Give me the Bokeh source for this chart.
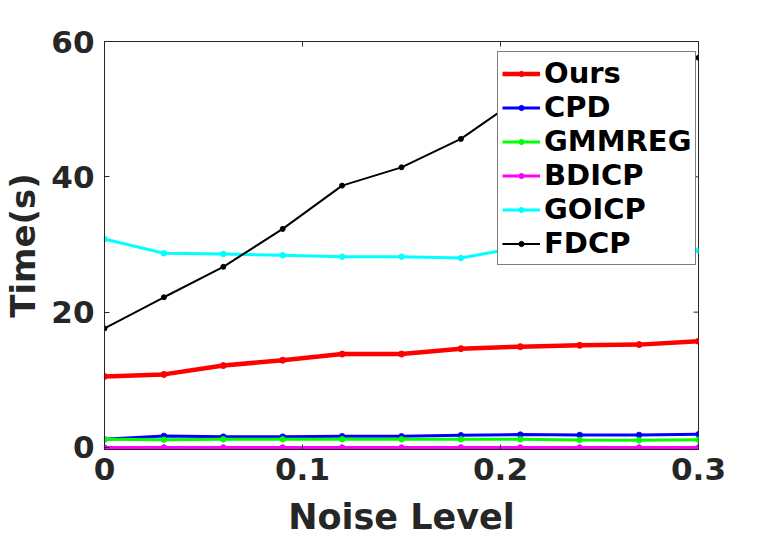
import math
from bokeh.plotting import figure
from bokeh.models import Range1d, FixedTicker, Legend, LegendItem
from bokeh.embed import file_html
from bokeh.resources import INLINE

noise = [0.0, 0.03, 0.06, 0.09, 0.12, 0.15, 0.18, 0.21, 0.24, 0.27, 0.30]
ours = [10.5, 10.8, 12.1, 12.9, 13.8, 13.8, 14.6, 14.9, 15.1, 15.2, 15.7]
cpd = [1.2, 1.7, 1.6, 1.6, 1.65, 1.65, 1.8, 1.9, 1.85, 1.85, 1.95]
gmmreg = [1.2, 1.15, 1.2, 1.2, 1.2, 1.2, 1.2, 1.2, 1.1, 1.05, 1.15]
bdicp = [0.0, 0.0, 0.0, 0.0, 0.0, 0.0, 0.0, 0.0, 0.0, 0.0, 0.0]
goicp = [30.8, 28.7, 28.6, 28.4, 28.2, 28.2, 28.0, 29.6, 29.4, 29.2, 29.1]
fdcp = [17.6, 22.2, 26.7, 32.3, 38.7, 41.4, 45.6, 51.7, 54.0, 56.0, 57.6]

x_ticks = [0, 0.1, 0.2, 0.3]
y_ticks = [0, 20, 40, 60]
x_tick_labels = {0: "0", 0.1: "0.1", 0.2: "0.2", 0.3: "0.3"}

series = [
    ("Ours", ours, "#FF0000", 4.5, 6),
    ("CPD", cpd, "#0000FF", 3, 5.5),
    ("GMMREG", gmmreg, "#00FF00", 3, 5.5),
    ("BDICP", bdicp, "#FF00FF", 3, 5.5),
    ("GOICP", goicp, "#00FFFF", 3, 5.5),
    ("FDCP", fdcp, "#000000", 2, 5),
]

FONT = "DejaVu Sans"
TXT = "#262626"

p = figure(width=771, height=539, output_backend="svg", toolbar_location=None,
           x_range=Range1d(0, 0.3), y_range=Range1d(-0.3, 60),
           min_border_left=100, min_border_right=73, min_border_top=41,
           min_border_bottom=90, x_axis_label="Noise Level", y_axis_label="Time(s)")
p.background_fill_color = "white"
p.border_fill_color = "white"
p.outline_line_color = TXT
p.outline_line_width = 1
p.xgrid.visible = False
p.ygrid.visible = False

p.xaxis.ticker = FixedTicker(ticks=x_ticks)
p.xaxis.major_label_overrides = x_tick_labels
p.yaxis.ticker = FixedTicker(ticks=y_ticks)

for ax in list(p.xaxis) + list(p.yaxis):
    ax.axis_line_color = TXT
    ax.major_tick_in = 5
    ax.major_tick_out = 0
    ax.major_tick_line_color = TXT
    ax.minor_tick_line_color = None
    ax.major_label_text_font = FONT
    ax.major_label_text_font_style = "bold"
    ax.major_label_text_font_size = "31px"
    ax.major_label_text_color = TXT
    ax.axis_label_text_font = FONT
    ax.axis_label_text_font_style = "bold"
    ax.axis_label_text_color = TXT
    ax.axis_label_text_line_height = 1.0
p.xaxis.axis_label_text_font_size = "35px"
p.yaxis.axis_label_text_font_size = "34px"
p.xaxis.major_label_standoff = 8
p.xaxis.axis_label_standoff = 14
p.yaxis.major_label_standoff = 10
p.yaxis.axis_label_standoff = 5

# mirrored inner tick marks on the top and right edges (clipped to the frame)
p.scatter(x=x_ticks, y=[p.y_range.end] * len(x_ticks), marker="dash", size=10,
          angle=math.pi / 2, line_color=TXT, line_width=1)
p.scatter(x=[p.x_range.end] * len(y_ticks), y=y_ticks, marker="dash", size=10,
          line_color=TXT, line_width=1)

items = []
for name, vals, color, lw, ms in series:
    lr = p.line(noise, vals, line_color=color, line_width=lw)
    sr = p.scatter(noise, vals, size=ms, fill_color=color, line_color=color, marker="circle")
    items.append(LegendItem(label=name, renderers=[lr, sr]))

legend = Legend(items=items, location=(393, 184))
legend.label_text_font = FONT
legend.label_text_font_style = "bold"
legend.label_text_font_size = "29px"
legend.label_text_color = "black"
legend.glyph_width = 38
legend.glyph_height = 13
legend.label_height = 34
legend.label_standoff = 4
legend.spacing = 0
legend.padding = 4
legend.border_line_color = "black"
legend.border_line_width = 1
legend.background_fill_color = "white"
legend.background_fill_alpha = 1.0
p.add_layout(legend, "center")

open("out.html", "w").write(file_html(p, INLINE))
